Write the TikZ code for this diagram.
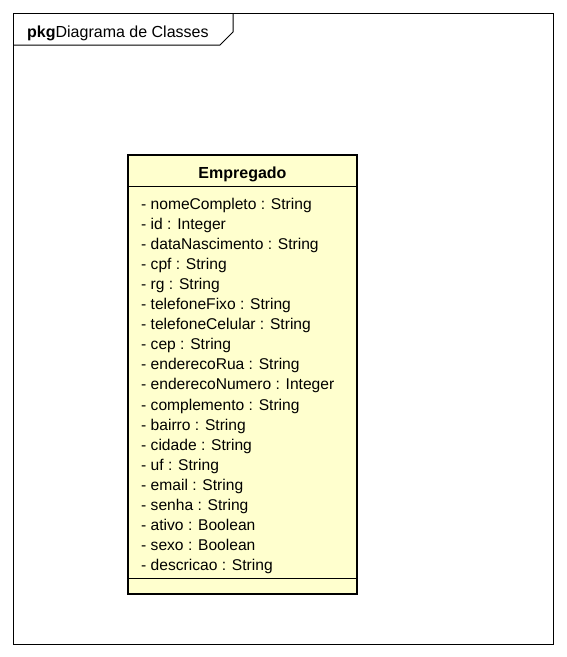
\documentclass[tikz,border=0pt]{standalone}
\usepackage{fontspec}
\setmainfont{Liberation Sans}
\usetikzlibrary{positioning, calc}
\definecolor{umlfill}{RGB}{255,255,206}

\begin{document}
\begin{tikzpicture}[
  x=1pt,y=-1pt,
  font=\fontsize{15.6}{18}\selectfont,
  frm/.style={draw=black,line width=1pt},
  cls/.style={draw=black,fill=umlfill,line width=2pt},
  attr/.style={anchor=base west,inner sep=0pt}
]
  \useasboundingbox (0,0) rectangle (566,657);
  % package frame and tab
  \draw[frm] (13,13) rectangle (553,644);
  \draw[frm] (233,13) -- (233,32) -- (220,45) -- (13,45);
  \node[attr,font=\fontsize{16}{18}\selectfont] (pkg) at (27,37) {\textbf{pkg}Diagrama de Classes};
  % class box
  \draw[cls] (128,155) rectangle (357,594);
  \draw[line width=0.8pt] (128,186) -- (357,186);
  \draw[line width=0.8pt] (128,578) -- (357,578);
  \node[inner sep=0pt,anchor=base,font=\fontsize{16}{18}\selectfont] (cname) at (242.5,178) {\textbf{Empregado}};
  \foreach \t [count=\i from 0] in {%
    - nomeCompleto : String,- id : Integer,- dataNascimento : String,%
    - cpf : String,- rg : String,- telefoneFixo : String,%
    - telefoneCelular : String,- cep : String,- enderecoRua : String,%
    - enderecoNumero : Integer,- complemento : String,- bairro : String,%
    - cidade : String,- uf : String,- email : String,- senha : String,%
    - ativo : Boolean,- sexo : Boolean,- descricao : String}
    \node[attr] (a\i) at (141,{209+20.1*\i}) {\t};
\end{tikzpicture}
\end{document}
